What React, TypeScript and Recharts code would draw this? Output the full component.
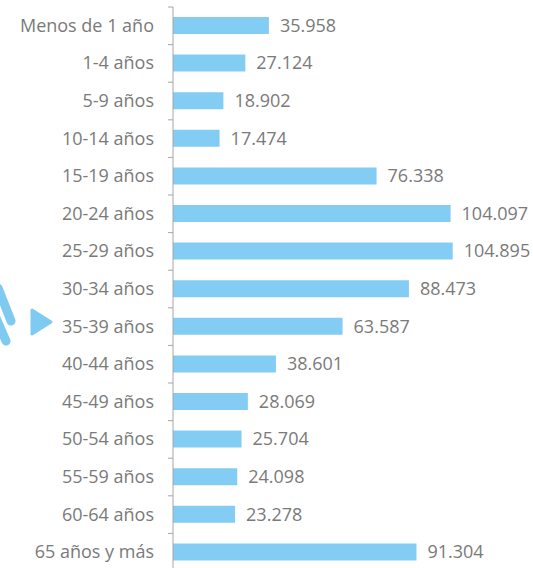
import { Bar, BarChart, LabelList, XAxis, YAxis } from 'recharts';

const categories = [
  'Menos de 1 año',
  '1-4 años',
  '5-9 años',
  '10-14 años',
  '15-19 años',
  '20-24 años',
  '25-29 años',
  '30-34 años',
  '35-39 años',
  '40-44 años',
  '45-49 años',
  '50-54 años',
  '55-59 años',
  '60-64 años',
  '65 años y más',
];

const values = [
  35958, 27124, 18902, 17474, 76338, 104097, 104895, 88473, 63587, 38601, 28069, 25704, 24098, 23278, 91304,
];

const data = categories.map((name, i) => ({ name, value: values[i] }));

const BAR_COLOR = '#83cdf5';
const TEXT_COLOR = '#7a7a7a';
const AXIS_COLOR = '#a6a6a6';
const BAND = 563.6 / categories.length;

const formatValue = (v: unknown) => Number(v).toLocaleString('de-DE');

function CategoryTick(props: any) {
  const { x, y, payload, index } = props;
  const last = index === categories.length - 1;
  return (
    <g>
      <text x={x - 19} y={y} dy={6} textAnchor="end" fill={TEXT_COLOR} fontSize={18} fontFamily="Open Sans, sans-serif">
        {payload.value}
      </text>
      <line x1={x - 5} x2={x} y1={y - BAND / 2} y2={y - BAND / 2} stroke={AXIS_COLOR} />
      {last && <line x1={x - 5} x2={x} y1={y + BAND / 2} y2={y + BAND / 2} stroke={AXIS_COLOR} />}
    </g>
  );
}

export default function App() {
  return (
    <div style={{ position: 'absolute', left: 0, top: 0, width: 533, height: 568, overflow: 'hidden', background: '#fff' }}>
      <svg width={60} height={360} style={{ position: 'absolute', left: 0, top: 0 }}>
        <path d="M32 310 L51 322 L32 334 Z" fill="#7fcaf0" stroke="#7fcaf0" strokeWidth={3} strokeLinejoin="round" />
        <line x1={-2} y1={288} x2={11} y2={321} stroke="#7fcaf0" strokeWidth={9} strokeLinecap="round" />
        <line x1={-4} y1={318} x2={6} y2={341} stroke="#7fcaf0" strokeWidth={9} strokeLinecap="round" />
      </svg>
      <BarChart
        width={533}
        height={580}
        data={data}
        layout="vertical"
        margin={{ top: 7, right: 0, left: 0, bottom: 9 }}
        style={{ position: 'absolute', left: 0, top: 0 }}
      >
        <XAxis type="number" hide domain={[0, 135000]} />
        <YAxis
          type="category"
          dataKey="name"
          width={173}
          axisLine={{ stroke: AXIS_COLOR }}
          tickLine={false}
          tickSize={0}
          tickMargin={0}
          tick={<CategoryTick />}
          interval={0}
        />
        <Bar dataKey="value" fill={BAR_COLOR} barSize={17} isAnimationActive={false}>
          <LabelList
            dataKey="value"
            position="right"
            offset={11}
            formatter={formatValue}
            fill={TEXT_COLOR}
            fontSize={18}
            fontFamily="Open Sans, sans-serif"
          />
        </Bar>
      </BarChart>
    </div>
  );
}
